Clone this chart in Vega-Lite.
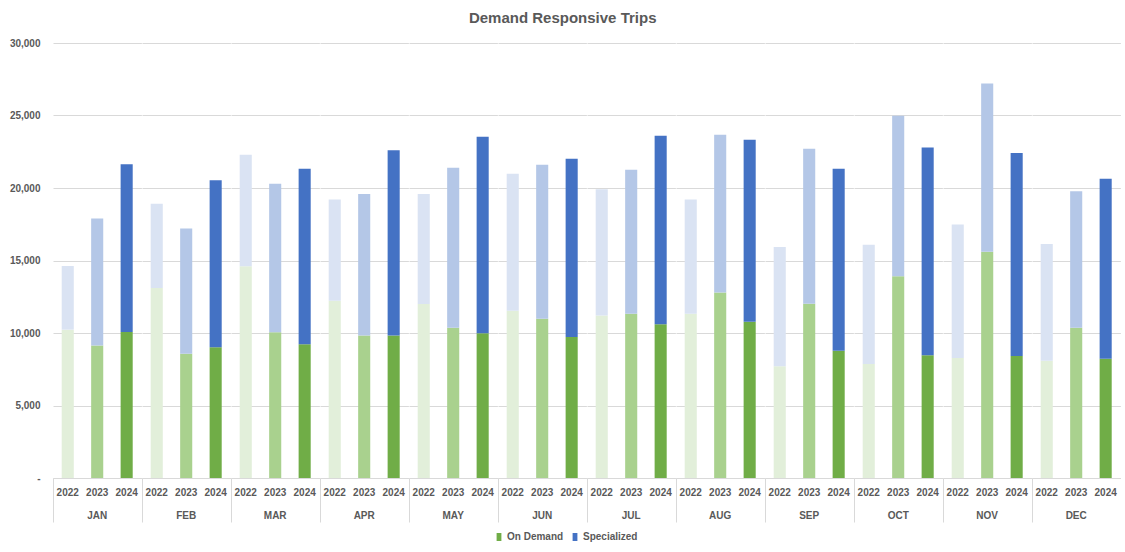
{
  "$schema": "https://vega.github.io/schema/vega-lite/v6.json",
  "title": {
    "text": "Demand Responsive Trips",
    "fontSize": 15,
    "fontWeight": "bold",
    "color": "#595959",
    "anchor": "middle",
    "offset": 12
  },
  "padding": {"left": 5, "top": 11, "right": 5, "bottom": 0},
  "data": {
    "values": [
      {"month": "JAN", "year": "2022", "series": "On Demand", "trips": 10230},
      {"month": "JAN", "year": "2022", "series": "Specialized", "trips": 4390},
      {"month": "JAN", "year": "2023", "series": "On Demand", "trips": 9130},
      {"month": "JAN", "year": "2023", "series": "Specialized", "trips": 8760},
      {"month": "JAN", "year": "2024", "series": "On Demand", "trips": 10070},
      {"month": "JAN", "year": "2024", "series": "Specialized", "trips": 11560},
      {"month": "FEB", "year": "2022", "series": "On Demand", "trips": 13100},
      {"month": "FEB", "year": "2022", "series": "Specialized", "trips": 5820},
      {"month": "FEB", "year": "2023", "series": "On Demand", "trips": 8570},
      {"month": "FEB", "year": "2023", "series": "Specialized", "trips": 8630},
      {"month": "FEB", "year": "2024", "series": "On Demand", "trips": 9010},
      {"month": "FEB", "year": "2024", "series": "Specialized", "trips": 11520},
      {"month": "MAR", "year": "2022", "series": "On Demand", "trips": 14600},
      {"month": "MAR", "year": "2022", "series": "Specialized", "trips": 7700},
      {"month": "MAR", "year": "2023", "series": "On Demand", "trips": 10050},
      {"month": "MAR", "year": "2023", "series": "Specialized", "trips": 10250},
      {"month": "MAR", "year": "2024", "series": "On Demand", "trips": 9220},
      {"month": "MAR", "year": "2024", "series": "Specialized", "trips": 12110},
      {"month": "APR", "year": "2022", "series": "On Demand", "trips": 12230},
      {"month": "APR", "year": "2022", "series": "Specialized", "trips": 6970},
      {"month": "APR", "year": "2023", "series": "On Demand", "trips": 9820},
      {"month": "APR", "year": "2023", "series": "Specialized", "trips": 9770},
      {"month": "APR", "year": "2024", "series": "On Demand", "trips": 9820},
      {"month": "APR", "year": "2024", "series": "Specialized", "trips": 12780},
      {"month": "MAY", "year": "2022", "series": "On Demand", "trips": 12000},
      {"month": "MAY", "year": "2022", "series": "Specialized", "trips": 7590},
      {"month": "MAY", "year": "2023", "series": "On Demand", "trips": 10370},
      {"month": "MAY", "year": "2023", "series": "Specialized", "trips": 11030},
      {"month": "MAY", "year": "2024", "series": "On Demand", "trips": 9980},
      {"month": "MAY", "year": "2024", "series": "Specialized", "trips": 13560},
      {"month": "JUN", "year": "2022", "series": "On Demand", "trips": 11540},
      {"month": "JUN", "year": "2022", "series": "Specialized", "trips": 9450},
      {"month": "JUN", "year": "2023", "series": "On Demand", "trips": 10990},
      {"month": "JUN", "year": "2023", "series": "Specialized", "trips": 10620},
      {"month": "JUN", "year": "2024", "series": "On Demand", "trips": 9720},
      {"month": "JUN", "year": "2024", "series": "Specialized", "trips": 12300},
      {"month": "JUL", "year": "2022", "series": "On Demand", "trips": 11200},
      {"month": "JUL", "year": "2022", "series": "Specialized", "trips": 8710},
      {"month": "JUL", "year": "2023", "series": "On Demand", "trips": 11330},
      {"month": "JUL", "year": "2023", "series": "Specialized", "trips": 9930},
      {"month": "JUL", "year": "2024", "series": "On Demand", "trips": 10600},
      {"month": "JUL", "year": "2024", "series": "Specialized", "trips": 13010},
      {"month": "AUG", "year": "2022", "series": "On Demand", "trips": 11330},
      {"month": "AUG", "year": "2022", "series": "Specialized", "trips": 7870},
      {"month": "AUG", "year": "2023", "series": "On Demand", "trips": 12800},
      {"month": "AUG", "year": "2023", "series": "Specialized", "trips": 10880},
      {"month": "AUG", "year": "2024", "series": "On Demand", "trips": 10780},
      {"month": "AUG", "year": "2024", "series": "Specialized", "trips": 12550},
      {"month": "SEP", "year": "2022", "series": "On Demand", "trips": 7700},
      {"month": "SEP", "year": "2022", "series": "Specialized", "trips": 8230},
      {"month": "SEP", "year": "2023", "series": "On Demand", "trips": 12020},
      {"month": "SEP", "year": "2023", "series": "Specialized", "trips": 10690},
      {"month": "SEP", "year": "2024", "series": "On Demand", "trips": 8780},
      {"month": "SEP", "year": "2024", "series": "Specialized", "trips": 12550},
      {"month": "OCT", "year": "2022", "series": "On Demand", "trips": 7860},
      {"month": "OCT", "year": "2022", "series": "Specialized", "trips": 8230},
      {"month": "OCT", "year": "2023", "series": "On Demand", "trips": 13910},
      {"month": "OCT", "year": "2023", "series": "Specialized", "trips": 11080},
      {"month": "OCT", "year": "2024", "series": "On Demand", "trips": 8460},
      {"month": "OCT", "year": "2024", "series": "Specialized", "trips": 14340},
      {"month": "NOV", "year": "2022", "series": "On Demand", "trips": 8280},
      {"month": "NOV", "year": "2022", "series": "Specialized", "trips": 9210},
      {"month": "NOV", "year": "2023", "series": "On Demand", "trips": 15610},
      {"month": "NOV", "year": "2023", "series": "Specialized", "trips": 11590},
      {"month": "NOV", "year": "2024", "series": "On Demand", "trips": 8410},
      {"month": "NOV", "year": "2024", "series": "Specialized", "trips": 14000},
      {"month": "DEC", "year": "2022", "series": "On Demand", "trips": 8090},
      {"month": "DEC", "year": "2022", "series": "Specialized", "trips": 8050},
      {"month": "DEC", "year": "2023", "series": "On Demand", "trips": 10370},
      {"month": "DEC", "year": "2023", "series": "Specialized", "trips": 9400},
      {"month": "DEC", "year": "2024", "series": "On Demand", "trips": 8230},
      {"month": "DEC", "year": "2024", "series": "Specialized", "trips": 12410}
    ]
  },
  "facet": {
    "column": {
      "field": "month",
      "type": "ordinal",
      "sort": ["JAN", "FEB", "MAR", "APR", "MAY", "JUN", "JUL", "AUG", "SEP", "OCT", "NOV", "DEC"],
      "header": {
        "title": null,
        "labelOrient": "bottom",
        "labelFontSize": 10,
        "labelFontWeight": "bold",
        "labelColor": "#595959",
        "labelPadding": -12
      }
    }
  },
  "spacing": 0,
  "spec": {
    "width": 88.4,
    "height": 435,
    "mark": {"type": "bar", "width": {"band": 0.41}},
    "encoding": {
      "x": {
        "field": "year",
        "type": "nominal",
        "title": null,
        "scale": {"paddingInner": 0, "paddingOuter": 0},
        "axis": {
          "labelAngle": 0,
          "labelFontSize": 10,
          "labelFontWeight": "bold",
          "labelColor": "#595959",
          "domainColor": "#D9D9D9",
          "bandPosition": 0,
          "tickSize": 44,
          "tickColor": {
            "condition": {"test": "datum.value == '2022'", "value": "#D9D9D9"},
            "value": "transparent"
          },
          "labelPadding": -35
        }
      },
      "y": {
        "field": "trips",
        "type": "quantitative",
        "title": null,
        "scale": {"domain": [0, 30000]},
        "axis": {
          "values": [0, 5000, 10000, 15000, 20000, 25000, 30000],
          "labelExpr": "datum.value == 0 ? '-' : format(datum.value, ',')",
          "domain": false,
          "ticks": false,
          "gridColor": "#D9D9D9",
          "labelColor": "#595959",
          "labelFontSize": 10,
          "labelFontWeight": "bold",
          "labelPadding": 13,
          "minExtent": 48,
          "maxExtent": 48
        }
      },
      "order": {"field": "series", "sort": "ascending"},
      "color": {
        "condition": [
          {"test": "datum.year == '2022' && datum.series == 'On Demand'", "value": "#E2EFDA"},
          {"test": "datum.year == '2023' && datum.series == 'On Demand'", "value": "#A9D18E"},
          {"test": "datum.year == '2022' && datum.series == 'Specialized'", "value": "#DAE3F3"},
          {"test": "datum.year == '2023' && datum.series == 'Specialized'", "value": "#B4C7E7"}
        ],
        "field": "series",
        "type": "nominal",
        "scale": {"domain": ["On Demand", "Specialized"], "range": ["#70AD47", "#4472C4"]},
        "legend": {
          "title": null,
          "orient": "none",
          "legendX": 441,
          "legendY": 489,
          "direction": "horizontal",
          "symbolType": "M-0.6,-1H0.6V1H-0.6Z",
          "symbolSize": 64,
          "symbolStrokeWidth": 0,
          "labelFontSize": 10,
          "labelFontWeight": "bold",
          "labelColor": "#595959",
          "labelOffset": 3,
          "columnPadding": 6
        }
      }
    }
  },
  "config": {
    "view": {"stroke": null},
    "font": "Liberation Sans"
  }
}
